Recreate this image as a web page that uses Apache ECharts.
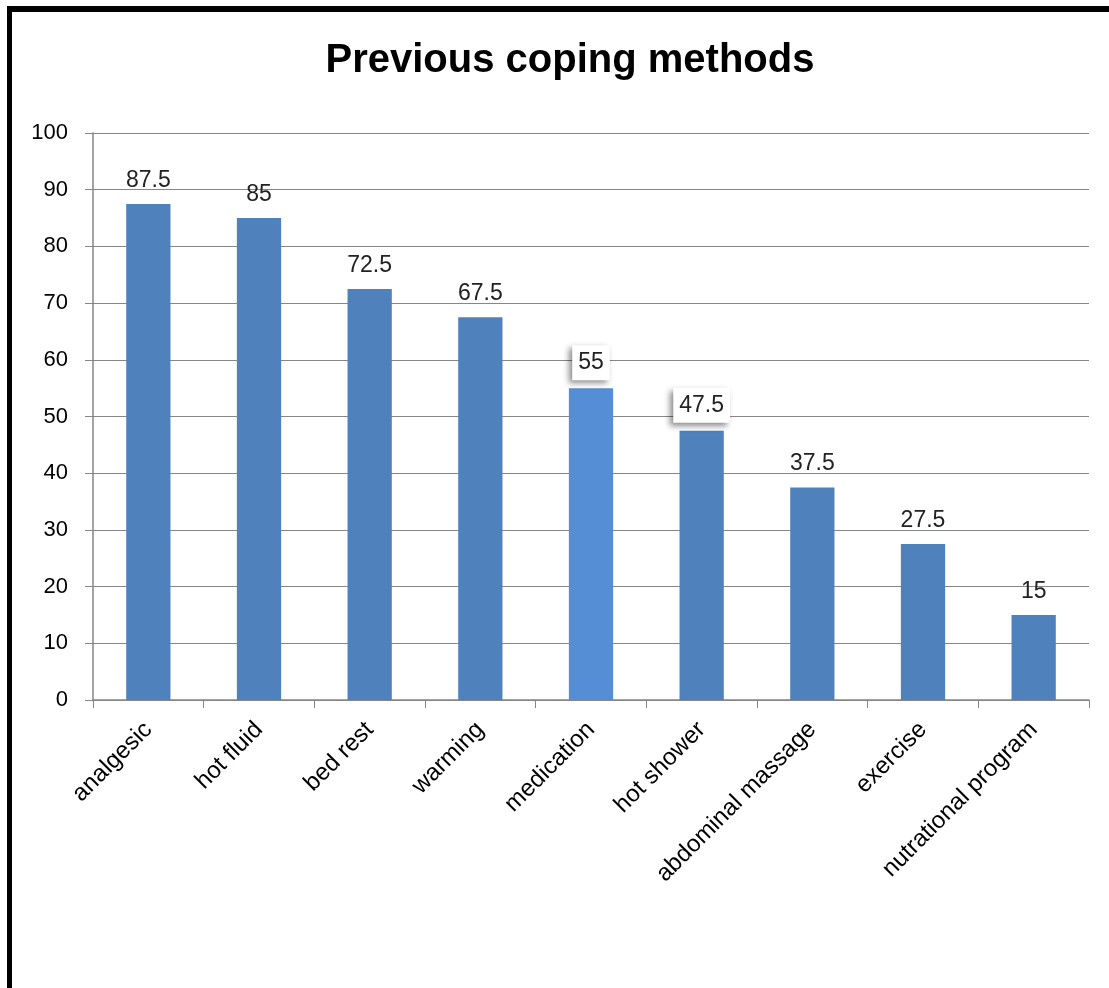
<!DOCTYPE html>
<html>
<head>
<meta charset="utf-8">
<script src="https://cdn.jsdelivr.net/npm/echarts@6/dist/echarts.min.js"></script>
<style>
  html, body { margin: 0; padding: 0; background: #fff; }
  #main { width: 1109px; height: 988px; }
</style>
</head>
<body>
<div id="main"></div>
<script>
var categories = ['analgesic', 'hot fluid', 'bed rest', 'warming', 'medication',
  'hot shower', 'abdominal massage', 'exercise', 'nutrational program'];
var values = [87.5, 85, 72.5, 67.5, 55, 47.5, 37.5, 27.5, 15];
// bars whose value label sits in a white box with a shadow
var boxedLabels = ['medication', 'hot shower'];
var highlighted = 'medication';

var font = 'Liberation Sans, Arial, sans-serif';
var myChart = echarts.init(document.getElementById('main'));

var data = values.map(function (v, i) {
  var item = { value: v };
  if (categories[i] === highlighted) {
    item.itemStyle = { color: '#558ED5' };
  }
  if (boxedLabels.indexOf(categories[i]) >= 0) {
    item.label = {
      backgroundColor: '#fff',
      padding: [6, 6, 6, 6],
      distance: 8,
      shadowColor: 'rgba(0,0,0,0.45)',
      shadowBlur: 6,
      shadowOffsetX: -3,
      shadowOffsetY: 3
    };
  }
  return item;
});

var option = {
  backgroundColor: '#fff',
  animation: false,
  title: {
    text: 'Previous coping methods',
    left: 565,
    textAlign: 'center',
    top: 36,
    textStyle: { fontFamily: font, fontSize: 40, fontWeight: 'bold', color: '#000' }
  },
  graphic: [
    { type: 'rect', shape: { x: 7, y: 6, width: 1102, height: 6 }, style: { fill: '#000' } },
    { type: 'rect', shape: { x: 7, y: 6, width: 5, height: 982 }, style: { fill: '#000' } }
  ],
  grid: { left: 93, right: 20, top: 133, bottom: 288 },
  xAxis: {
    type: 'category',
    data: categories,
    axisLine: { lineStyle: { color: '#868686', width: 1.5 } },
    axisTick: { show: true, length: 8, lineStyle: { color: '#868686' } },
    axisLabel: {
      rotate: 45,
      interval: 0,
      margin: 26,
      fontFamily: font,
      fontSize: 24,
      color: '#000'
    }
  },
  yAxis: {
    type: 'value',
    min: 0,
    max: 100,
    interval: 10,
    axisLine: { show: true, lineStyle: { color: '#868686', width: 1.5 } },
    axisTick: { show: true, length: 8, lineStyle: { color: '#868686' } },
    axisLabel: { fontFamily: font, fontSize: 22, color: '#000', margin: 25 },
    splitLine: { lineStyle: { color: '#868686', width: 1 } }
  },
  series: [{
    type: 'bar',
    data: data,
    barWidth: '40%',
    itemStyle: { color: '#4F81BD' },
    label: {
      show: true,
      position: 'top',
      distance: 12,
      fontFamily: font,
      fontSize: 23,
      color: '#222'
    }
  }]
};

myChart.setOption(option);
</script>
</body>
</html>
